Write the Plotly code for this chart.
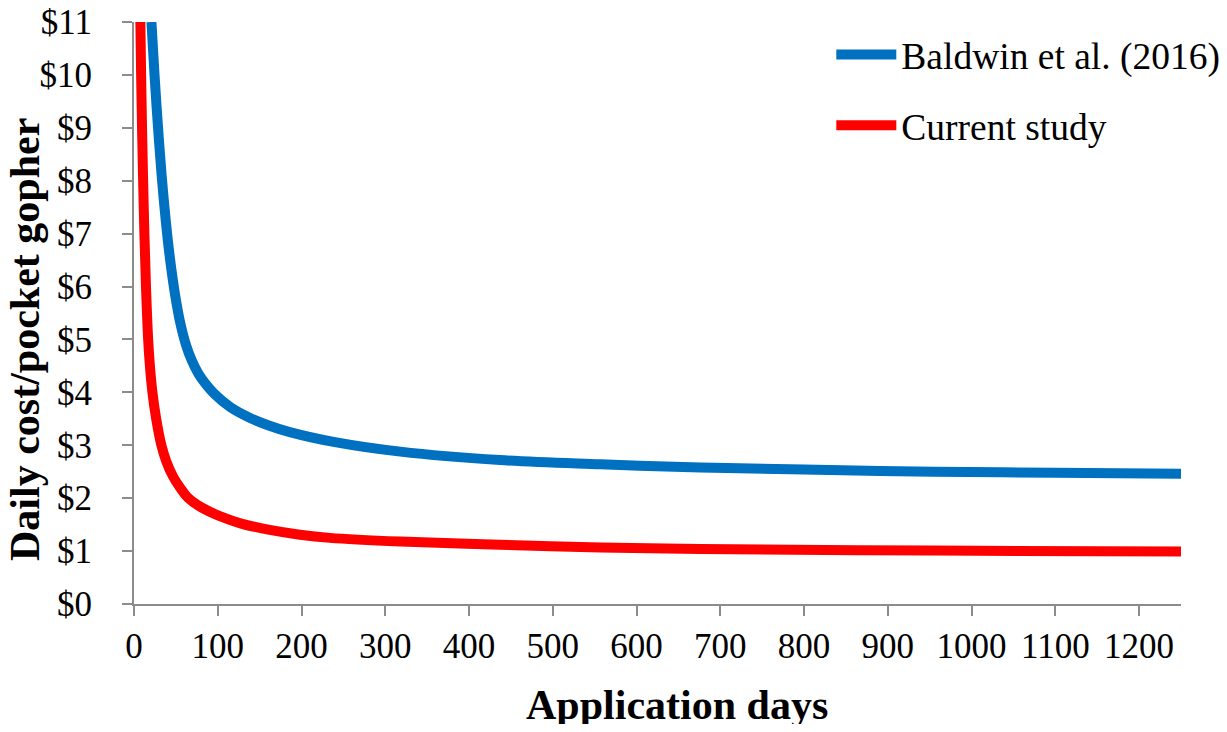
import plotly.graph_objects as go

# Values
blue_days = [20.8, 24.5, 28.5, 33, 39.5, 44, 49, 55, 62, 69, 77, 86, 96, 115, 138, 160, 186, 240, 318, 437, 557, 676, 800, 955, 1100, 1250]
blue_cost = [11.0, 10.0, 9.05, 8.1, 7.0, 6.4, 5.85, 5.33, 4.9, 4.6, 4.35, 4.15, 3.97, 3.72, 3.52, 3.38, 3.25, 3.06, 2.88, 2.72, 2.64, 2.58, 2.54, 2.50, 2.48, 2.46]

red_days = [7.6, 8.5, 9.6, 10.9, 12.4, 14.3, 16.9, 19, 22, 26.5, 32.7, 38.5, 46.6, 55, 65, 80, 104, 128, 162, 198, 234, 318, 437, 557, 676, 955, 1250]
red_cost = [11.0, 10.0, 9.0, 8.0, 7.0, 6.0, 5.0, 4.5, 4.0, 3.5, 3.0, 2.7, 2.41, 2.2, 2.0, 1.83, 1.65, 1.52, 1.40, 1.31, 1.25, 1.18, 1.12, 1.07, 1.04, 1.01, 0.99]

x_ticks = list(range(0, 1201, 100))
y_ticks = list(range(0, 12))
y_labels = ["$" + str(v) for v in y_ticks]

series_names = ["Baldwin et al. (2016)", "Current study"]
series_colors = ["#0070C0", "#FF0000"]

FONT = "Liberation Serif, Times New Roman, serif"
TICK_FS = 35
LEG_FS = 37.5

fig = go.Figure()
fig.add_trace(go.Scatter(x=blue_days, y=blue_cost, mode="lines", name=series_names[0],
                         legendgroup="a",
                         line=dict(color=series_colors[0], width=10, shape="spline", smoothing=1)))
fig.add_trace(go.Scatter(x=red_days, y=red_cost, mode="lines", name=series_names[1],
                         legendgroup="b",
                         line=dict(color=series_colors[1], width=10, shape="spline", smoothing=1)))

axis_color = "#8C8C8C"
# page body has an 8px margin, so the figure is sized to fit inside the window without scrollbars
fig.update_layout(
    width=1211, height=716,
    margin=dict(l=126, r=38, t=14, b=120, autoexpand=False),
    paper_bgcolor="white", plot_bgcolor="white",
    font=dict(family=FONT, size=TICK_FS, color="black"),
    showlegend=True,
    legend=dict(x=0.666, y=0.997, xanchor="left", yanchor="top",
                font=dict(family=FONT, size=LEG_FS, color="black"),
                bgcolor="rgba(0,0,0,0)", itemwidth=60,
                traceorder="grouped", tracegroupgap=19),
    xaxis=dict(range=[0, 1250], tickmode="array", tickvals=x_ticks,
               ticktext=[str(v) for v in x_ticks], automargin=False,
               ticklabeloverflow="allow",
               showgrid=False, zeroline=False, showline=True,
               linecolor=axis_color, linewidth=2,
               ticks="outside", ticklen=10, tickwidth=2, tickcolor=axis_color,
               tickfont=dict(family=FONT, size=TICK_FS, color="black")),
    yaxis=dict(range=[0, 11], tickmode="array", tickvals=y_ticks, ticktext=y_labels,
               automargin=False, ticklabeloverflow="allow",
               showgrid=False, zeroline=False, showline=True,
               linecolor=axis_color, linewidth=2,
               ticks="outside", ticklen=10, tickwidth=2, tickcolor=axis_color,
               ticklabelstandoff=23,
               tickfont=dict(family=FONT, size=TICK_FS, color="black")),
    annotations=[
        dict(text="<b>Application days</b>", xref="paper", yref="paper",
             x=0.5186, y=-0.1735, xanchor="center", yanchor="middle", showarrow=False,
             font=dict(family=FONT, size=42, color="black")),
        dict(text="<b>Daily cost/pocket gopher</b>", xref="paper", yref="paper",
             x=-0.1041, y=0.4536, xanchor="center", yanchor="middle", showarrow=False,
             textangle=-90, font=dict(family=FONT, size=42, color="black")),
    ],
)

fig.write_html("out.html")
